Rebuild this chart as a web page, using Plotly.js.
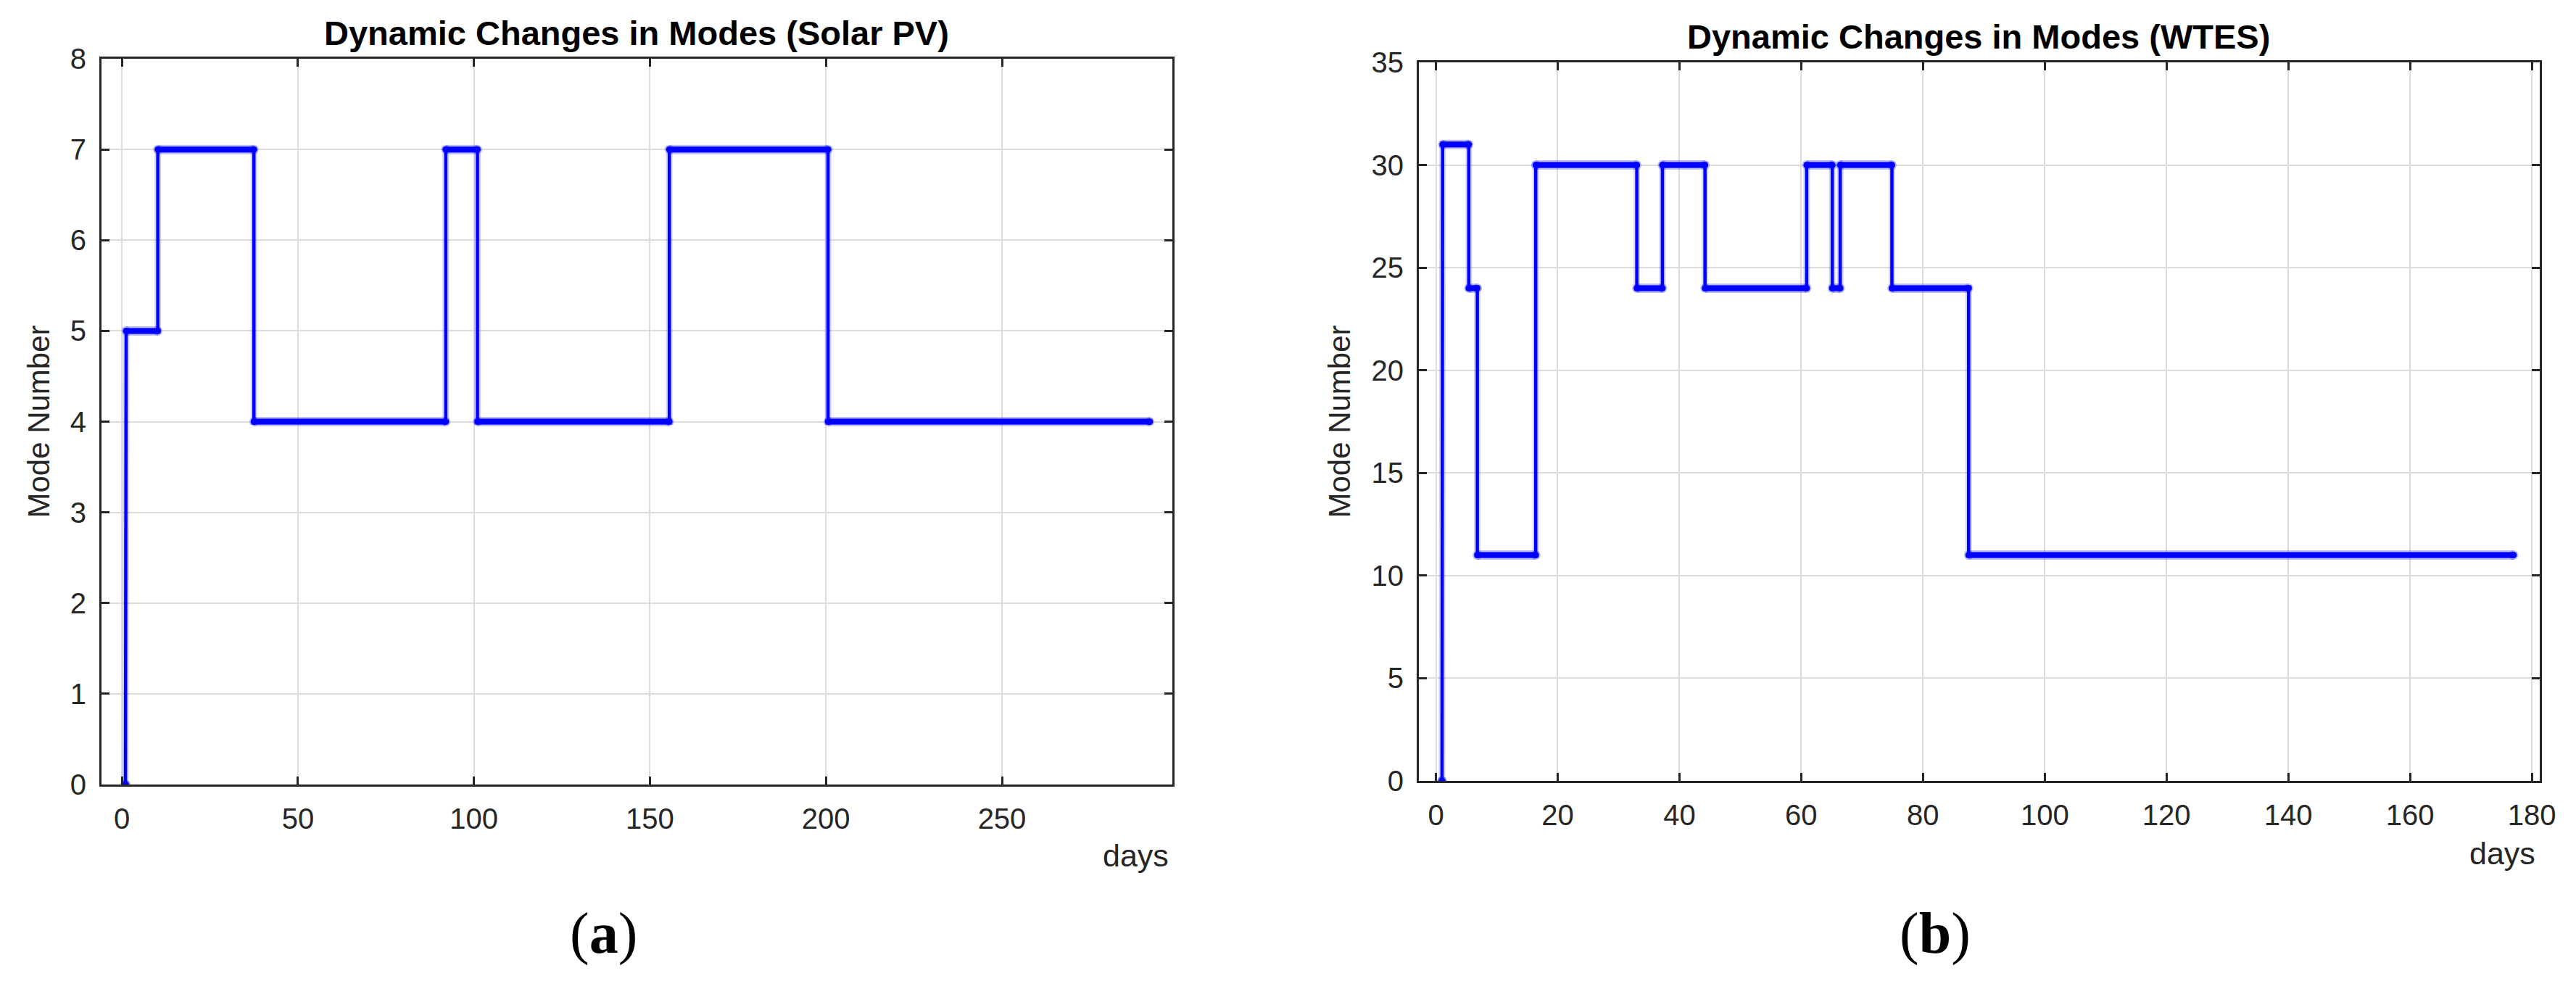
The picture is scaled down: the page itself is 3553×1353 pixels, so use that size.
<!DOCTYPE html>
<html>
<head>
<meta charset="utf-8">
<script src="https://cdn.plot.ly/plotly-3.0.1.min.js"></script>
<style>html,body{margin:0;padding:0;background:#fff;}#chart{width:3553px;height:1353px;}</style>
</head>
<body>
<div id="chart"></div>
<script>
// ---- Data ----
// Solar PV: each segment = [start day, end day, mode]
const solarStart = [1, 1.2, 10.2, 37.5, 92, 101, 155.5, 200.6];
const solarEnd   = [1, 10.2, 37.5, 92, 101, 155.5, 200.6, 292];
const solarMode  = [0, 5, 7, 4, 7, 4, 7, 4];

// WTES
const wtesStart = [1, 1.1, 5.4, 6.8, 16.4, 33.0, 37.2, 44.2, 60.9, 65.1, 66.4, 74.9, 87.5];
const wtesEnd   = [1, 5.4, 6.8, 16.4, 33.0, 37.2, 44.2, 60.9, 65.1, 66.4, 74.9, 87.5, 177];
const wtesMode  = [0, 31, 24, 11, 30, 24, 30, 24, 30, 24, 30, 24, 11];

const titleA = "Dynamic Changes in Modes (Solar PV)";
const titleB = "Dynamic Changes in Modes (WTES)";
const yTitle = "Mode Number";
const xLabel = "days";

// ---- Build traces ----
function stepTraces(starts, ends, modes, xa, ya) {
  const sx = [], sy = [], hx = [], hy = [];
  for (let i = 0; i < modes.length; i++) {
    sx.push(starts[i], ends[i]);
    sy.push(modes[i], modes[i]);
    hx.push(starts[i], ends[i], null);
    hy.push(modes[i], modes[i], null);
  }
  const blue = '#0000ff';
  return [
    {x: sx, y: sy, xaxis: xa, yaxis: ya, mode: 'lines', type: 'scatter',
     line: {color: 'rgba(0,0,255,0.18)', width: 9}, hoverinfo: 'skip', showlegend: false},
    {x: sx, y: sy, xaxis: xa, yaxis: ya, mode: 'lines', type: 'scatter',
     line: {color: blue, width: 4.5}, showlegend: false},
    {x: hx, y: hy, xaxis: xa, yaxis: ya, mode: 'lines+markers', type: 'scatter',
     line: {color: 'rgba(0,0,255,0.25)', width: 13}, marker: {color: 'rgba(0,0,255,0.25)', size: 13},
     hoverinfo: 'skip', showlegend: false},
    {x: hx, y: hy, xaxis: xa, yaxis: ya, mode: 'lines+markers', type: 'scatter',
     line: {color: blue, width: 8}, marker: {color: blue, size: 9},
     showlegend: false}
  ];
}

const data = [].concat(
  stepTraces(solarStart, solarEnd, solarMode, 'x', 'y'),
  stepTraces(wtesStart, wtesEnd, wtesMode, 'x2', 'y2')
);

const W = 3553, H = 1353;
const px = v => v / W;
const py = v => 1 - v / H;

const FONT = 'Liberation Sans, Arial, sans-serif';
const tickFont = {family: FONT, size: 40, color: '#262626'};
const axisCommon = {
  showline: true, mirror: 'ticks', linecolor: '#262626', linewidth: 3,
  ticks: 'inside', ticklen: 11, tickwidth: 3, tickcolor: '#262626',
  showgrid: true, gridcolor: '#dcdcdc', gridwidth: 2,
  zeroline: false, tickfont: tickFont, fixedrange: true
};

const layout = {
  width: W, height: H,
  margin: {l: 0, r: 0, t: 0, b: 0},
  paper_bgcolor: '#ffffff', plot_bgcolor: '#ffffff',
  showlegend: false,
  xaxis: Object.assign({}, axisCommon, {
    domain: [px(140), px(1617)], range: [-5.8, 298.4], dtick: 50, tick0: 0,
    anchor: 'y', ticklabelstandoff: 10
  }),
  yaxis: Object.assign({}, axisCommon, {
    domain: [py(1082), py(81)], range: [0, 8], dtick: 1, tick0: 0,
    anchor: 'x', ticklabelstandoff: 10,
    title: {text: yTitle, font: {family: FONT, size: 42, color: '#262626'}, standoff: 16}
  }),
  xaxis2: Object.assign({}, axisCommon, {
    domain: [px(1957), px(3503)], range: [-2.8, 181.3], dtick: 20, tick0: 0,
    anchor: 'y2', ticklabelstandoff: 10
  }),
  yaxis2: Object.assign({}, axisCommon, {
    domain: [py(1077), py(86)], range: [0, 35], dtick: 5, tick0: 0,
    anchor: 'x2', ticklabelstandoff: 10,
    title: {text: yTitle, font: {family: FONT, size: 42, color: '#262626'}, standoff: 16}
  }),
  annotations: [
    {text: '<b>' + titleA + '</b>', xref: 'paper', yref: 'paper', x: px(878), y: py(46),
     xanchor: 'center', yanchor: 'middle', showarrow: false,
     font: {family: FONT, size: 47, color: '#000'}},
    {text: '<b>' + titleB + '</b>', xref: 'paper', yref: 'paper', x: px(2729), y: py(50),
     xanchor: 'center', yanchor: 'middle', showarrow: false,
     font: {family: FONT, size: 47, color: '#000'}},
    {text: xLabel, xref: 'paper', yref: 'paper', x: px(1614), y: py(1180),
     xanchor: 'right', yanchor: 'middle', showarrow: false,
     font: {family: FONT, size: 43, color: '#262626'}},
    {text: xLabel, xref: 'paper', yref: 'paper', x: px(3499), y: py(1177),
     xanchor: 'right', yanchor: 'middle', showarrow: false,
     font: {family: FONT, size: 43, color: '#262626'}},
    {text: '(<b>a</b>)', xref: 'paper', yref: 'paper', x: px(832), y: py(1287),
     xanchor: 'center', yanchor: 'middle', showarrow: false,
     font: {family: 'Liberation Serif, Times New Roman, serif', size: 80, color: '#000'}},
    {text: '(<b>b</b>)', xref: 'paper', yref: 'paper', x: px(2669), y: py(1287),
     xanchor: 'center', yanchor: 'middle', showarrow: false,
     font: {family: 'Liberation Serif, Times New Roman, serif', size: 80, color: '#000'}}
  ]
};

Plotly.newPlot('chart', data, layout, {displayModeBar: false, staticPlot: true});
</script>
</body>
</html>
